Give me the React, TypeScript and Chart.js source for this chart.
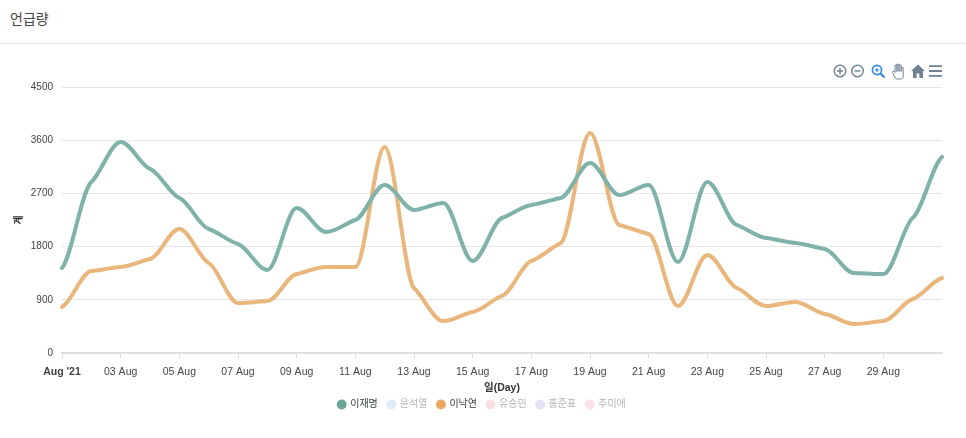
import { useEffect, useRef } from "react";
import { Chart, registerables } from "chart.js";

Chart.register(...registerables);

const days = [
  "Aug '21", "02 Aug", "03 Aug", "04 Aug", "05 Aug", "06 Aug", "07 Aug", "08 Aug", "09 Aug", "10 Aug",
  "11 Aug", "12 Aug", "13 Aug", "14 Aug", "15 Aug", "16 Aug", "17 Aug", "18 Aug", "19 Aug", "20 Aug",
  "21 Aug", "22 Aug", "23 Aug", "24 Aug", "25 Aug", "26 Aug", "27 Aug", "28 Aug", "29 Aug", "30 Aug", "31 Aug",
];

const leeJaeMyung = [
  1438, 2893, 3570, 3113, 2623, 2098, 1844, 1404, 2453, 2047, 2250, 2842, 2420, 2538, 1557, 2284,
  2504, 2623, 3215, 2673, 2842, 1540, 2893, 2166, 1946, 1861, 1760, 1353, 1336, 2284, 3316,
];
const leeNakYon = [
  778, 1387, 1455, 1590, 2098, 1523, 846, 880, 1337, 1455, 1455, 3486, 1100, 541, 694, 965,
  1557, 1861, 3722, 2166, 2013, 795, 1658, 1100, 795, 863, 660, 491, 541, 914, 1269,
];

const seriesNames = ["이재명", "윤석열", "이낙연", "유승민", "홍준표", "추미애"];
const markerColors = ["#6ba598", "#deebfa", "#e8a862", "#fbe0e3", "#e4e0f5", "#fbe0e9"];
const activeSeries = [true, false, true, false, false, false];

const SANS = "'Liberation Sans', 'Noto Sans CJK KR', sans-serif";

// legend sits a bit right of centre and tight under the axis title
const legendNudge = {
  id: "legendNudge",
  afterLayout(chart: any) {
    const legend = chart.legend;
    if (!legend) return;
    legend.left += 4.5;
    legend.right += 4.5;
    legend.top -= 4.5;
    legend.bottom -= 4.5;
  },
};

// original curve keeps hard shoulders at each day, chart.js monotone rounds them off,
// so redo the handles from the points the scales gave us (damped tangents)
const shoulderCurve = {
  id: "shoulderCurve",
  beforeDatasetsDraw(chart: any) {
    chart.getSortedVisibleDatasetMetas().forEach((meta: any) => {
      const pts = meta.data;
      const n = pts.length;
      if (n < 3) return;
      const slope = (a: any, b: any) => (b.y - a.y) / (b.x - a.x);
      const tangents = pts.map((p: any, i: number) => {
        if (i === 0) return slope(p, pts[1]) * 0.4;
        if (i === n - 1) return slope(pts[i - 1], p) * 0.4;
        const s0 = slope(pts[i - 1], p);
        const s1 = slope(p, pts[i + 1]);
        const t = (Math.sign(s0) + Math.sign(s1)) * Math.min(Math.abs(s0), Math.abs(s1), 0.25 * Math.abs(s0 + s1));
        return t * 0.4;
      });
      pts.forEach((p: any, i: number) => {
        const dxPrev = i > 0 ? (p.x - pts[i - 1].x) / 3 : 0;
        const dxNext = i < n - 1 ? (pts[i + 1].x - p.x) / 3 : 0;
        p.cp1x = p.x - dxPrev;
        p.cp1y = p.y - tangents[i] * dxPrev;
        p.cp2x = p.x + dxNext;
        p.cp2y = p.y + tangents[i] * dxNext;
      });
      meta.dataset._pointsUpdated = true;
      delete meta.dataset._path;
    });
  },
};

function Toolbar() {
  const grey = "#6e8192";
  return (
    <svg width={120} height={24} viewBox="0 0 120 24" style={{ position: "absolute", left: 828, top: 59 }}>
      <g fill="none" stroke={grey} strokeWidth={1.4}>
        <circle cx={12} cy={12} r={5.8} />
        <path d="M9 12h6M12 9v6" />
        <circle cx={29.5} cy={12} r={5.8} />
        <path d="M26.5 12h6" />
      </g>
      <g fill="none" stroke="#2f86e0" strokeWidth={1.7}>
        <circle cx={49} cy={11} r={4.6} />
        <path d="M52.5 14.5l4 4" strokeWidth={2.2} />
        <path d="M47 11h4M49 9v4" strokeWidth={1.1} />
      </g>
      <path
        d="M64.5 13.5l2.5 5c.5 1 1.3 1.5 2.5 1.5h3c1.7 0 2.7-1 2.7-2.7V8.5h-2v4V6.2h-2.1v6.3V5.2h-2.1v7.3V6.2h-2v7.3l-1-1.3c-.6-.6-1.5 0-1.5 1.3z"
        fill="#fff"
        stroke={grey}
        strokeWidth={1}
        strokeLinejoin="round"
      />
      <path d="M90 5.5l7 6.6h-2v7h-3.6v-4.6h-2.8v4.6H85v-7h-2z" fill={grey} />
      <path d="M101 7.2h13M101 12h13M101 16.8h13" stroke={grey} strokeWidth={1.8} />
    </svg>
  );
}

export default function App() {
  const canvasRef = useRef<HTMLCanvasElement | null>(null);

  useEffect(() => {
    if (!canvasRef.current) return;

    const chart = new Chart(canvasRef.current, {
      type: "line",
      plugins: [legendNudge, shoulderCurve],
      data: {
        labels: days,
        datasets: [
          { label: seriesNames[0], data: leeJaeMyung, borderColor: "#7fb3a9" },
          { label: seriesNames[1], data: [], borderColor: markerColors[1] },
          { label: seriesNames[2], data: leeNakYon, borderColor: "#e9b67c" },
          { label: seriesNames[3], data: [], borderColor: markerColors[3] },
          { label: seriesNames[4], data: [], borderColor: markerColors[4] },
          { label: seriesNames[5], data: [], borderColor: markerColors[5] },
        ],
      },
      options: {
        responsive: false,
        animation: false,
        layout: { padding: { top: 87, right: 24, bottom: 14, left: 13 } },
        elements: {
          line: { borderWidth: 4, cubicInterpolationMode: "monotone", fill: false, borderCapStyle: "round" },
          point: { radius: 0 },
        },
        scales: {
          x: {
            offset: false,
            border: { color: "#e0e0e0", width: 2 },
            grid: {
              display: true,
              drawOnChartArea: false,
              tickLength: 6,
              tickColor: (ctx: any) => (ctx.index % 2 === 0 && ctx.index < 30 ? "#e0e0e0" : "rgba(0,0,0,0)"),
            },
            afterFit: (scale: any) => {
              scale.height = 41;
            },
            ticks: {
              autoSkip: false,
              maxRotation: 0,
              color: "#444444",
              padding: 7,
              font: (ctx: any) => ({
                family: SANS,
                size: 10.5,
                weight: ctx.index === 0 ? "bold" : "normal",
              }),
              callback: (_v: any, i: number) => (i % 2 === 0 && i < 30 ? days[i] : ""),
            },
            title: {
              display: true,
              text: "일(Day)",
              color: "#333333",
              padding: 0,
              font: { family: SANS, size: 10.5, weight: "bold" },
            },
          },
          y: {
            min: 0,
            max: 4500,
            border: { display: false },
            grid: { color: "#e6e6e6", lineWidth: 1, drawTicks: false },
            afterFit: (scale: any) => {
              scale.width = 49;
            },
            ticks: {
              stepSize: 900,
              color: "#444444",
              padding: 9,
              font: { family: SANS, size: 10 },
              callback: (v: any) => String(v),
            },
            title: {
              display: true,
              text: "계",
              color: "#333333",
              padding: 0,
              font: { family: SANS, size: 10, weight: "bold" },
            },
          },
        },
        plugins: {
          title: { display: false },
          tooltip: { enabled: false },
          legend: {
            position: "bottom",
            onClick: () => {},
            labels: {
              usePointStyle: true,
              pointStyle: "circle",
              boxWidth: 7,
              boxHeight: 7,
              padding: 10,
              font: { family: SANS, size: 10 },
              generateLabels: () =>
                seriesNames.map((name, i) => ({
                  text: name,
                  datasetIndex: i,
                  fillStyle: markerColors[i],
                  strokeStyle: markerColors[i],
                  lineWidth: 0,
                  pointStyle: "circle",
                  fontColor: activeSeries[i] ? "#373d3f" : "#b5b5b5",
                })),
            },
          },
        },
      },
    });

    return () => {
      chart.destroy();
    };
  }, []);

  return (
    <div style={{ position: "absolute", left: 0, top: 0, width: 966, height: 438, background: "#fff", overflow: "hidden" }}>
      <div
        style={{
          position: "absolute",
          left: 0,
          top: 0,
          width: 966,
          height: 43,
          borderBottom: "1px solid #ececec",
          boxSizing: "content-box",
        }}
      >
        <span
          style={{
            position: "absolute",
            left: 10,
            top: 8,
            fontFamily: "'Noto Sans CJK KR', sans-serif",
            fontSize: 14,
            color: "#444",
          }}
        >
          언급량
        </span>
      </div>
      <canvas ref={canvasRef} width={966} height={438} style={{ position: "absolute", left: 0, top: 0 }} />
      <Toolbar />
    </div>
  );
}
